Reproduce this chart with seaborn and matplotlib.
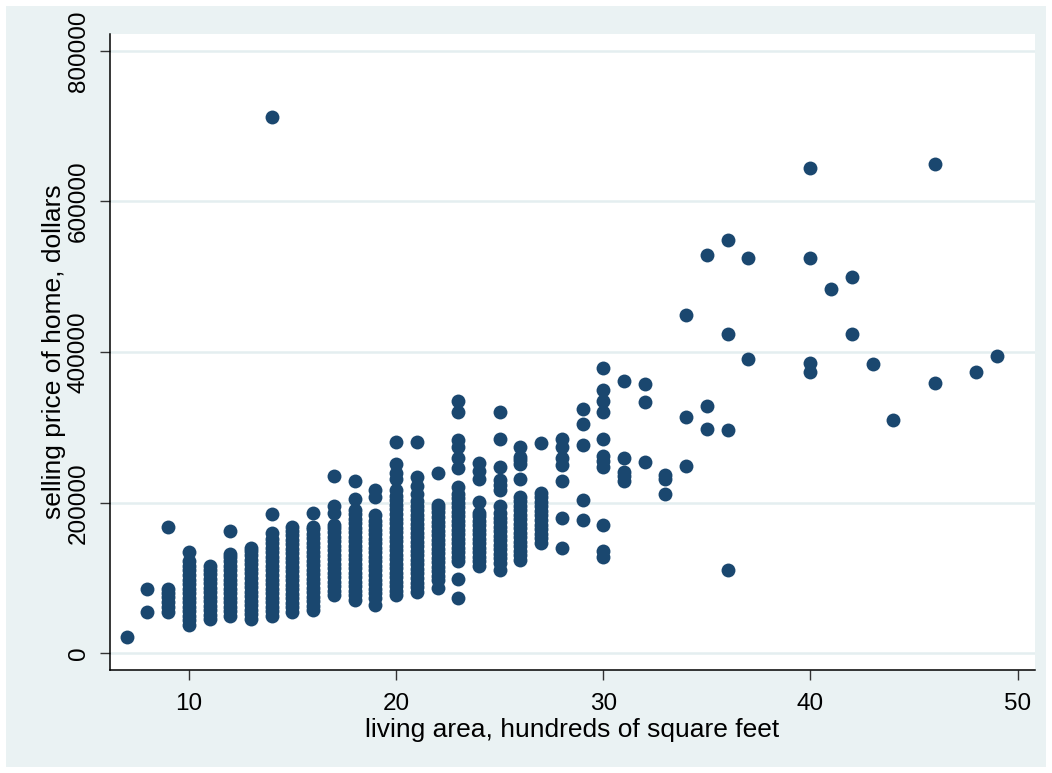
import pandas as pd
import matplotlib
matplotlib.use("Agg")
import matplotlib.pyplot as plt
import seaborn as sns
from matplotlib.patches import Rectangle

p07 = [22]
p08 = [55, 85]
p09 = [55, 62, 68, 75, 80, 85, 168]
p10 = [37, 44, 50, 56, 62, 68, 74, 80, 86, 92, 98, 104, 110, 116, 122, 134]
p11 = [45, 51, 57, 63, 69, 75, 81, 87, 93, 99, 105, 111, 116]
p12 = [50, 56, 62, 68, 74, 80, 86, 92, 98, 104, 110, 116, 122, 128, 132, 162]
p13 = [46, 52, 58, 64, 70, 76, 82, 88, 94, 100, 106, 112, 118, 124, 130, 136, 140]
p14 = [50, 56, 62, 68, 74, 80, 86, 92, 98, 104, 110, 116, 122, 128, 134, 140, 146, 152, 160, 185]
p15 = [55, 61, 67, 73, 79, 85, 91, 97, 103, 109, 115, 121, 127, 133, 139, 145, 151, 157, 163, 168]
p16 = [57, 63, 69, 75, 81, 87, 93, 99, 105, 111, 117, 123, 129, 135, 141, 147, 153, 159, 165, 168, 186]
p17 = [77, 83, 89, 95, 101, 107, 113, 119, 125, 131, 137, 143, 149, 155, 161, 167, 170, 186, 196, 235]
p18 = [71, 77, 83, 89, 95, 101, 107, 113, 119, 125, 131, 137, 143, 149, 155, 161, 167, 173, 179, 185, 190, 205, 229]
p19 = [64, 73, 80, 86, 92, 98, 104, 110, 116, 122, 128, 134, 140, 146, 152, 158, 164, 170, 176, 184, 207, 217]
p20 = [77, 83, 89, 95, 101, 107, 113, 119, 125, 131, 137, 143, 149, 155, 161, 167, 173, 179, 185, 191,
       197, 203, 209, 217, 231, 240, 252, 281]
p21 = [82, 88, 94, 100, 106, 112, 118, 124, 130, 136, 142, 148, 154, 160, 166, 172, 178, 184, 190, 196,
       202, 212, 222, 234, 281]
p22 = [87, 97, 103, 109, 115, 121, 127, 133, 139, 145, 151, 157, 163, 169, 175, 181, 187, 193, 197, 240]
p23 = [73, 99, 122, 128, 134, 140, 146, 152, 158, 164, 170, 176, 182, 188, 194, 200, 206, 212, 221,
       246, 259, 274, 283, 320, 335]
p24 = [116, 122, 128, 134, 140, 146, 152, 158, 164, 170, 176, 182, 186, 201, 232, 242, 253]
p25 = [111, 120, 126, 132, 138, 144, 150, 156, 162, 168, 174, 180, 186, 195, 217, 224, 230, 247, 284, 320]
p26 = [124, 130, 136, 142, 148, 154, 160, 166, 172, 178, 184, 190, 196, 202, 208, 231, 252, 257, 261, 274]
p27 = [147, 153, 159, 165, 171, 177, 183, 189, 195, 201, 207, 213, 279]
p28 = [140, 180, 229, 250, 259, 274, 285]
p29 = [177, 204, 277, 304, 324]
p30 = [128, 136, 171, 248, 255, 262, 284, 320, 335, 350, 379]
p31 = [229, 235, 241, 260, 362]
p32 = [254, 334, 357]
p33 = [212, 232, 237]
p34 = [249, 314, 449]
p35 = [298, 329, 529]
p36 = [110, 297, 424, 549]
p37 = [391, 525]
p40 = [374, 385, 525, 644]
p41 = [484]
p42 = [424, 500]
p43 = [384]
p44 = [310]
p46 = [359, 650]
p48 = [374]
p49 = [395]

columns = {7: p07, 8: p08, 9: p09, 10: p10, 11: p11, 12: p12, 13: p13, 14: p14, 15: p15,
           16: p16, 17: p17, 18: p18, 19: p19, 20: p20, 21: p21, 22: p22, 23: p23, 24: p24,
           25: p25, 26: p26, 27: p27, 28: p28, 29: p29, 30: p30, 31: p31, 32: p32, 33: p33,
           34: p34, 35: p35, 36: p36, 37: p37, 40: p40, 41: p41, 42: p42, 43: p43, 44: p44,
           46: p46, 48: p48, 49: p49}
# outlier at 14 hundred sq ft
extra_area = [14]
extra_price = [712]

rows = []
for a, prices in columns.items():
    for p in prices:
        rows.append((a, p * 1000))
for a, p in zip(extra_area, extra_price):
    rows.append((a, p * 1000))
df = pd.DataFrame(rows, columns=["area", "price"])

plt.rcParams["font.family"] = ["Liberation Sans", "DejaVu Sans"]
fs = 17.5

W, H = 1052, 773
fig = plt.figure(figsize=(W / 100, H / 100), dpi=100, facecolor="white")
fig.add_artist(Rectangle((6 / W, 6 / H), 1040 / W, 761 / H, transform=fig.transFigure,
                         facecolor="#EAF2F3", edgecolor="none", zorder=-10))
ax = fig.add_axes([110 / W, 1 - 670 / H, (1035 - 110) / W, (670 - 34) / H])
ax.set_facecolor("white")

sns.scatterplot(data=df, x="area", y="price", ax=ax, s=100, color="#1A476F",
                linewidth=0, zorder=3)

ax.set_xlim(6.195, 50.835)
ax.set_ylim(-22180, 822400)
ax.set_xticks([10, 20, 30, 40, 50])
ax.set_yticks([0, 200000, 400000, 600000, 800000])
ax.set_yticklabels(["0", "200000", "400000", "600000", "800000"], rotation=90, va="center")
ax.grid(axis="y", color="#E4EEF0", linewidth=1.8, zorder=0)
ax.grid(axis="x", visible=False)
ax.set_axisbelow(True)

for s in ["top", "right"]:
    ax.spines[s].set_visible(False)
for s in ["left", "bottom"]:
    ax.spines[s].set_color("black")
    ax.spines[s].set_linewidth(1.1)
ax.tick_params(axis="both", length=7.5, width=1, color="#333333", labelsize=fs)
ax.tick_params(axis="x", pad=9)
ax.tick_params(axis="y", pad=7)

ax.set_xlabel("living area, hundreds of square feet", fontsize=19, labelpad=2)
ax.set_ylabel("selling price of home, dollars", fontsize=19, labelpad=1)

fig.savefig("out.png", dpi=100, facecolor="white")
